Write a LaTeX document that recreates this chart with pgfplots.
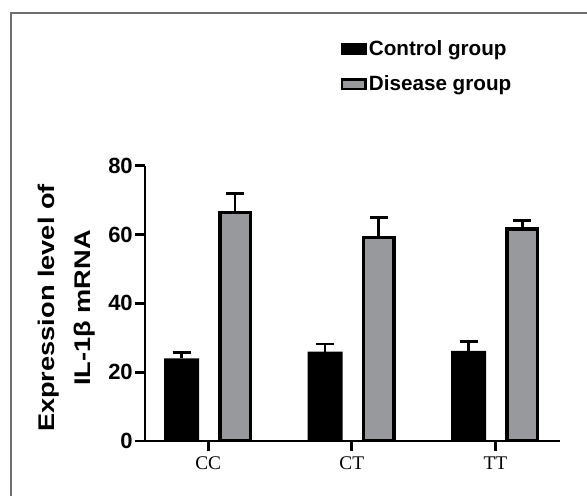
\documentclass[border=0pt]{standalone}
\usepackage{fontspec}
\setmainfont{Liberation Sans}
\newfontfamily\serifticks{Liberation Serif}
\usepackage{pgfplots}
\pgfplotsset{compat=1.18}
\definecolor{grayfill}{RGB}{152,153,157}
\definecolor{framegray}{RGB}{110,110,110}
\newcommand\legfont{\bfseries\fontsize{15.5}{17}\selectfont}
\newcommand\ytfont{\bfseries\fontsize{16.5}{18}\selectfont}
\newcommand\xtfont{\serifticks\fontsize{14.5}{16}\selectfont}
\newcommand\ylfont{\bfseries\fontsize{17}{19}\selectfont}
\begin{document}
\begin{tikzpicture}
\useasboundingbox (0,0) rectangle (440.25pt,-372pt);
\draw[framegray, line width=1.1pt] (8.25pt,-380pt) -- (8.25pt,-9.75pt) -- (450pt,-9.75pt);
\begin{axis}[
  at={(108.75pt,-330.75pt)}, anchor=south west,
  scale only axis, width=311.25pt, height=206.5pt,
  ybar,
  xmin=-0.44, xmax=2.45, ymin=0, ymax=80,
  axis x line*=bottom, axis y line*=left,
  axis line style={-, line width=2pt, black},
  tick align=outside, major tick length=7.5pt,
  tick style={line width=2pt, black},
  xtick={0,1,2}, xticklabels={CC,CT,TT},
  ytick={0,20,40,60,80},
  /pgf/number format/assume math mode=true,
  yticklabel style={font=\ytfont, inner sep=1.5pt},
  xticklabel style={font=\xtfont, yshift=-1pt},
  ylabel={\scalebox{1.2}[1]{\begin{tabular}{@{}c@{}}Expression level of\\[8pt]IL-1β mRNA\end{tabular}}},
  ylabel style={at={(axis description cs:-0.188,0.483)}, anchor=center, font=\ylfont},
  legend style={at={(axis description cs:0.472,1.463)}, anchor=north west, draw=none, fill=none,
    inner sep=0pt, outer sep=0pt, row sep=11pt, font=\legfont,
    nodes={inner sep=1.5pt}},
  legend cell align=left,
]
\addplot[fill=black, draw=none, bar width=26.25pt, bar shift=-20pt,
  legend image code/.code={\fill[black] (0pt,-4.5pt) rectangle (19.5pt,4.5pt);},
  error bars/.cd, y dir=plus, y explicit,
  error bar style={line width=2pt, black},
  error mark options={rotate=90, mark size=6.75pt, line width=2pt, black}]
  coordinates {(0,24.0) +- (0,1.8) (1,26.0) +- (0,2.2) (2,26.2) +- (0,2.7)};
\addplot[fill=grayfill, draw=black, line width=2.6pt, bar width=22.9pt, bar shift=20.2pt,
  legend image code/.code={\draw[fill=grayfill, draw=black, line width=1.8pt] (0.9pt,-3.6pt) rectangle (18.6pt,3.6pt);},
  error bars/.cd, y dir=plus, y explicit,
  error bar style={line width=2pt, black},
  error mark options={rotate=90, mark size=6.75pt, line width=2pt, black}]
  coordinates {(0,66.4) +- (0,5.5) (1,59.2) +- (0,5.8) (2,61.6) +- (0,2.5)};
\legend{Control group, Disease group}
\end{axis}
\end{tikzpicture}
\end{document}
